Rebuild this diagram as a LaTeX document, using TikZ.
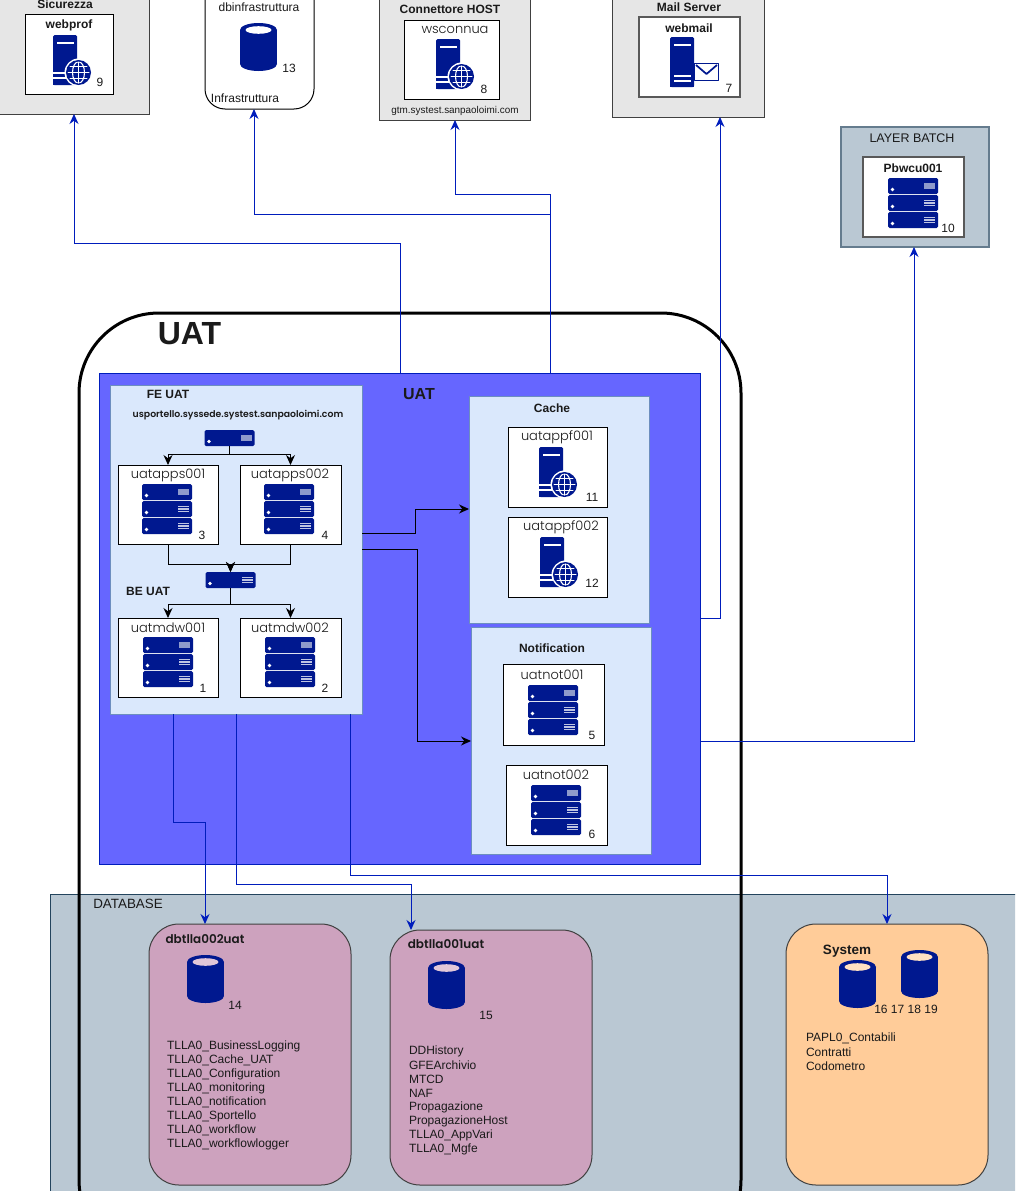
\documentclass[tikz,border=0pt]{standalone}
\usepackage{fontspec}
\setmainfont{Liberation Sans}
\newfontfamily\gothic{Poppins Light}
\usetikzlibrary{arrows.meta}
\definecolor{navy}{HTML}{00188F}
\definecolor{bluep}{HTML}{6666FF}
\definecolor{bluest}{HTML}{001DBC}
\definecolor{lightp}{HTML}{DAE8FC}
\definecolor{lightst}{HTML}{6C8EBF}
\definecolor{graybox}{HTML}{E6E6E6}
\definecolor{slate}{HTML}{BAC8D3}
\definecolor{slatest}{HTML}{23445D}
\definecolor{pinkbox}{HTML}{CDA2BE}
\definecolor{orangebox}{HTML}{FFCC99}
\definecolor{rackled}{HTML}{8E9ACB}
\definecolor{txt}{HTML}{1A1A1A}
\newcounter{lbl}
\tikzset{
  x=1pt,y=-1pt,
  bx/.style={inner sep=0pt,outer sep=0pt,line width=1pt},
  group/.style={bx,draw=black!75,fill=graybox,line width=1pt},
  host/.style={bx,draw=black,fill=white},
  ghost/.style={bx,draw=black!65,fill=white,line width=1.2pt},
  batch/.style={bx,draw=slatest!70,fill=slate,line width=1.2pt},
  panel/.style={bx,draw=lightst,fill=lightp},
  dbbox/.style={bx,draw=black!75,rounded corners=30pt},
  lab/.style={inner sep=0pt,outer sep=0pt,text=txt,font=\fontsize{12}{14}\selectfont},
  blab/.style={lab,font=\fontsize{12}{14}\selectfont\bfseries},
  glab/.style={lab,font=\fontsize{13}{15}\selectfont\gothic},
  gblab/.style={lab,font=\fontsize{12}{14}\selectfont\gothic\bfseries},
  lst/.style={lab,anchor=west},
  blk/.style={draw=black,line width=1pt,-{Stealth[length=10pt,width=9pt]}},
  blu/.style={draw=bluest,line width=1pt,-{Stealth[length=10pt,width=9pt]}},
}
\newcommand\bxn[6]{\node[#1,minimum width={(#5-(#3))*1pt},minimum height={(#6-(#4))*1pt}] (#2) at ({((#3)+(#5))/2},{((#4)+(#6))/2}) {};}
\newcommand\lb[4][lab]{\stepcounter{lbl}\node[#1] (t\thelbl) at (#2,#3) {#4};}
\newcommand\unitbase{\fill[navy,rounded corners=1.5pt] (0,0) rectangle (50,16);\fill[white] (4.5,11.5) circle (1.9);}
\newcommand\ledsolid{\fill[rackled] (36,4.5) rectangle (47,10.5);}
\newcommand\ledstripe{\foreach \yy in {5.5,8,10.5}{\fill[white!75!navy] (36,\yy-0.75) rectangle (47,\yy+0.75);}}
\newcommand\unitA[2]{\begin{scope}[shift={(#1,#2)}]\unitbase\ledsolid\end{scope}}
\newcommand\unitB[2]{\begin{scope}[shift={(#1,#2)}]\unitbase\ledstripe\end{scope}}
\newcommand\rack[2]{\unitA{#1}{#2}\unitB{#1}{#2+17}\unitB{#1}{#2+34}}
\newcommand\srvbody{\fill[navy,rounded corners=1.5pt] (0,50) -- (0,0) -- (24,0) -- (24,50) -- cycle;
  \fill[navy] (0,45) rectangle (24,50);
  \fill[white] (4,7) rectangle (21,9);}
\newcommand\srvglobe[2]{\begin{scope}[shift={(#1,#2)}]\srvbody
  \fill[white] (0,37) rectangle (14,39);\fill[white] (0,42) rectangle (14,44);
  \fill[white] (25.5,37.5) circle (14);
  \fill[navy] (25.5,37.5) circle (12.5);
  \begin{scope}
  \clip (25.5,37.5) circle (10.8);
  \draw[white,line width=1.1pt] (25.5,37.5) ellipse [x radius=6,y radius=10.8];
  \draw[white,line width=1.1pt] (25.5,25.5) -- (25.5,49.5) (13.5,37.5) -- (37.5,37.5) (13.5,31.5) -- (37.5,31.5) (13.5,43.5) -- (37.5,43.5);
  \end{scope}
  \end{scope}}
\newcommand\srvmail[2]{\begin{scope}[shift={(#1,#2)}]\srvbody
  \fill[white] (3.5,38) rectangle (20.5,40);\fill[white] (3.5,42.5) rectangle (20.5,44.5);
  \draw[navy,line width=1.7pt,line join=round] (24.5,26.5) rectangle (48.5,43.5);
  \draw[navy,line width=1.7pt,line join=round] (26,28) -- (36.5,37) -- (47,28);
  \end{scope}}
\newcommand\cyl[3]{\begin{scope}[shift={(#1,#2)}]
  \fill[navy] (0,7) rectangle (37,41);
  \fill[navy] (18.5,7) ellipse [x radius=18.5,y radius=7];
  \fill[navy] (18.5,41) ellipse [x radius=18.5,y radius=7];
  \fill[#3] (18.5,7) ellipse [x radius=13,y radius=3.8];
  \end{scope}}
\begin{document}
\begin{tikzpicture}
\path[use as bounding box,clip] (0,0) rectangle (1015,1191);
\fill[white] (0,0) rectangle (1015,1191);

% top groups
\bxn{group}{sec}{-5}{-10}{149}{114}
\lb[blab]{65}{4}{Sicurezza}
\bxn{host}{webprof}{25}{14}{113}{94}
\lb[blab]{69}{25}{webprof}
\srvglobe{53}{35}
\lb{100}{82}{9}

\bxn{bx,draw=black,fill=white,rounded corners=20pt}{infra}{205}{-20}{314}{109}
\lb{259}{7}{dbinfrastruttura}
\cyl{240}{23}{white}
\lb{289}{68}{13}
\lb{245}{98}{Infrastruttura}

\bxn{group}{conn}{379}{-10}{530}{120}
\lb[blab]{450}{9}{Connettore HOST}
\bxn{host}{wsconn}{404}{20}{499}{99}
\lb[glab]{455}{30}{wsconnua}
\srvglobe{436}{39}
\lb{484}{89}{8}
\lb[lab,font=\fontsize{9.9}{11}\selectfont]{455}{111}{gtm.systest.sanpaoloimi.com}

\bxn{group}{mail}{612}{-10}{764}{117}
\lb[blab]{689}{7}{Mail Server}
\bxn{ghost}{webmail}{639}{17}{740}{97}
\lb[blab]{689}{28}{webmail}
\srvmail{670}{37}
\lb{729}{88}{7}

\bxn{batch}{batchp}{841}{127}{989}{247}
\lb[lab,font=\fontsize{12.5}{14}\selectfont]{912}{138}{LAYER BATCH}
\bxn{ghost}{pbw}{863}{157}{964}{237}
\lb[blab]{913}{168}{Pbwcu001}
\rack{888}{178}
\lb{948}{228}{10}

% database band
\bxn{bx,draw=slatest,fill=slate}{dbband}{50}{894}{1030}{1210}
\lb[lab,font=\fontsize{13.4}{15}\selectfont]{128}{904}{DATABASE}

% UAT outer
\bxn{bx,draw=black,line width=3pt,rounded corners=80pt}{uat}{79}{313}{741}{1260}
\lb[lab,font=\fontsize{32}{36}\selectfont\bfseries]{189.5}{334}{UAT}

% blue panel
\bxn{bx,draw=bluest,fill=bluep}{blue}{99}{373}{700}{864}
\lb[lab,font=\fontsize{16}{18}\selectfont\bfseries]{419}{394}{UAT}

% FE panel
\bxn{panel}{fe}{110}{385}{362}{714}
\lb[blab]{168}{394}{FE UAT}
\lb[lab,font=\fontsize{9.3}{11}\selectfont\gothic\bfseries]{238}{415}{usportello.syssede.systest.sanpaoloimi.com}
\node[bx,minimum width=51pt,minimum height=16pt] (sw1) at (229.5,438) {};
\unitA{204.5}{430}
\bxn{host}{app1}{118}{465}{218}{544}
\lb[glab]{168}{475}{uatapps001}
\rack{142}{484}
\lb{202}{535}{3}
\bxn{host}{app2}{240}{465}{341}{544}
\lb[glab]{290}{475}{uatapps002}
\rack{264}{484}
\lb{325}{535}{4}
\node[bx,minimum width=50pt,minimum height=16pt] (sw2) at (230.5,580) {};
\unitB{205.5}{572}
\lb[blab]{148}{591}{BE UAT}
\bxn{host}{mdw1}{118}{618}{218}{697}
\lb[glab]{168}{628}{uatmdw001}
\rack{143}{637}
\lb{203}{688}{1}
\bxn{host}{mdw2}{240}{618}{341}{697}
\lb[glab]{290}{628}{uatmdw002}
\rack{265}{637}
\lb{325}{688}{2}

% Cache
\bxn{panel}{cache}{469}{396}{649}{623}
\lb[blab]{552}{408}{Cache}
\bxn{host}{ppf1}{508}{427}{607}{507}
\lb[glab]{557}{437}{uatappf001}
\srvglobe{539}{447}
\lb{592}{497}{11}
\bxn{host}{ppf2}{508}{517}{607}{597}
\lb[glab]{561}{527}{uatappf002}
\srvglobe{540}{537}
\lb{592}{583}{12}

% Notification
\bxn{panel}{notif}{471}{627}{651}{854}
\lb[blab]{552}{648}{Notification}
\bxn{host}{not1}{503}{664}{604}{745}
\lb[glab]{552}{675}{uatnot001}
\rack{528}{685}
\lb{592}{735}{5}
\bxn{host}{not2}{506}{765}{607}{845}
\lb[glab]{556}{775}{uatnot002}
\rack{531}{785}
\lb{592}{834}{6}

% DB boxes
\bxn{dbbox,fill=pinkbox}{db2}{149}{924}{351}{1185}
\lb[gblab]{205}{939}{dbtlla002uat}
\cyl{187}{955}{pinkbox!60!white}
\lb{235}{1005}{14}
\foreach \n/\t in {0/TLLA0\_BusinessLogging,1/TLLA0\_Cache\_UAT,2/TLLA0\_Configuration,3/TLLA0\_monitoring,4/TLLA0\_notification,5/TLLA0\_Sportello,6/TLLA0\_workflow,7/TLLA0\_workflowlogger}{
  \node[lst] (la\n) at (167,{1046.7+14*\n}) {\t};}

\bxn{dbbox,fill=pinkbox}{db1}{390}{930}{592}{1185}
\lb[gblab]{446}{944}{dbtlla001uat}
\cyl{428}{961}{pinkbox!60!white}
\lb{486}{1015}{15}
\foreach \n/\t in {0/DDHistory,1/GFEArchivio,2/MTCD,3/NAF,4/Propagazione,5/PropagazioneHost,6/TLLA0\_AppVari,7/TLLA0\_Mgfe}{
  \node[lst] (lb\n) at (409,{1051.5+14*\n}) {\t};}

\bxn{dbbox,fill=orangebox}{sys}{786}{924}{988}{1185}
\lb[lab,font=\fontsize{13.5}{15}\selectfont\bfseries]{847}{951}{System}
\cyl{839}{960}{orangebox!60!white}
\cyl{901}{950}{orangebox!60!white}
\lb{906}{1009}{16 17 18 19}
\foreach \n/\t in {0/PAPL0\_Contabili,1/Contratti,2/Codometro}{
  \node[lst] (lc\n) at (806,{1038.5+14*\n}) {\t};}

% black connectors
\draw[blk] (sw1.south) -- (229.5,454) -| (app1.north);
\draw[blk] (sw1.south) -- (229.5,454) -| (app2.north);
\draw[blk] (app1.south) |- (230.5,564) -- (sw2.north);
\draw[blk] (app2.south) |- (230.5,564) -- (sw2.north);
\draw[blk] (sw2.south) -- (230.5,604) -| (mdw1.north);
\draw[blk] (sw2.south) -- (230.5,604) -| (mdw2.north);
\draw[blk] (fe.east |- 0,533) -- (415,533) |- (cache.west |- 0,509);
\draw[blk] (fe.east |- 0,549) -- (417,549) |- (notif.west |- 0,741);

% blue connectors
\draw[blu] (blue.north -| 400,0) -- (400,243) -| (sec.south -| 74,0);
\draw[blu] (blue.north -| 550,0) -- (550,214) -| (infra.south -| 254,0);
\draw[blu] (blue.north -| 550,0) -- (550,194) -| (conn.south -| 455,0);
\draw[blu] (blue.east |- 0,618) -- (720,618) -- (mail.south -| 720,0);
\draw[blu] (blue.east |- 0,741) -- (914,741) -- (batchp.south -| 914,0);
\draw[blu] (fe.south -| 173,0) -- (173,822) -- (205,822) -- (db2.north -| 205,0);
\draw[blu] (fe.south -| 236,0) -- (236,884) -- (411,884) -- (db1.north -| 411,0);
\draw[blu] (fe.south -| 350,0) -- (350,875) -- (887,875) -- (sys.north -| 887,0);
\end{tikzpicture}
\end{document}
